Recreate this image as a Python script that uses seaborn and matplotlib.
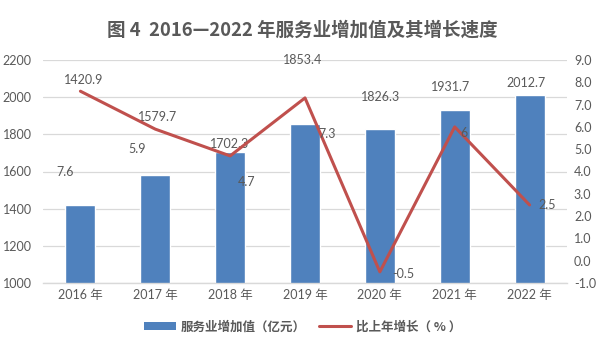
import matplotlib
matplotlib.use("Agg")
import matplotlib.pyplot as plt
import seaborn as sns
import pandas as pd
import numpy as np
from matplotlib.lines import Line2D
from matplotlib.patches import Patch

years = ["2016 年", "2017 年", "2018 年", "2019 年", "2020 年", "2021 年", "2022 年"]
value_added = [1420.9, 1579.7, 1702.3, 1853.4, 1826.3, 1931.7, 2012.7]
growth = [7.6, 5.9, 4.7, 7.3, -0.5, 6.0, 2.5]
growth_labels = ["7.6", "5.9", "4.7", "7.3", "-0.5", "6", "2.5"]

# label offsets in pixels (dx, dy) relative to mark
bar_label_offsets = [(3, 125), (2, 58), (-1, 8), (-2, 64), (1, 32), (-4, 23), (-4, 12)]
line_label_offsets = [(-15, -81), (-18, -20), (16, -26), (22, -36), (23, -2), (9, -6), (18, 0)]

sns.set_theme(style="white")
plt.rcParams['font.family'] = ['Lato', 'Noto Sans CJK SC', 'DejaVu Sans']

BLUE = "#4F81BD"
RED = "#C0504D"
TXT = "#595959"
GRID = "#D9D9D9"

df = pd.DataFrame({"year": years, "value": value_added, "growth": growth})

fig = plt.figure(figsize=(6.05, 3.4), dpi=100)
ax = fig.add_axes([43/605, 1-283/340, (567-43)/605, (283-60)/340])
sns.barplot(data=df, x="year", y="value", color=BLUE, width=0.4, ax=ax,
            saturation=1, zorder=2)
ax.set_ylim(1000, 2200)
ax.set_yticks(np.arange(1000, 2201, 200))
ax.set_xlim(-0.5, 6.5)
ax.grid(axis="y", color=GRID, linewidth=0.9, zorder=0)
ax.set_axisbelow(True)
for s in ["left", "right", "top"]:
    ax.spines[s].set_visible(False)
ax.spines["bottom"].set_color(GRID)
ax.spines["bottom"].set_linewidth(1.0)
ax.set_xlabel("")
ax.set_ylabel("")
ax.tick_params(axis="y", length=0, labelsize=9, labelcolor=TXT, pad=8)
ax.tick_params(axis="x", length=0, labelsize=9, labelcolor=TXT, pad=4)
ax.set_xticks([-0.5, 6.5], minor=True)
ax.tick_params(axis="x", which="minor", length=15, color=GRID, width=1.0, direction="out")

ax2 = ax.twinx()
sns.lineplot(x=np.arange(len(growth)), y=growth, color=RED, linewidth=2.2, ax=ax2, zorder=3)
ax2.set_ylim(-1, 9)
ax2.set_yticks(np.arange(-1, 9.01, 1))
ax2.set_yticklabels([f"{v:.1f}" for v in np.arange(-1, 9.01, 1)])
for s in ax2.spines.values():
    s.set_visible(False)
ax2.tick_params(axis="y", length=0, labelsize=9, labelcolor=TXT, pad=5)
ax2.set_ylabel("")
ax2.grid(False)
ax2.set_xlim(-0.5, 6.5)

for i, (v, (dx, dy)) in enumerate(zip(value_added, bar_label_offsets)):
    ax.annotate(f"{v:.1f}", xy=(i, v), xytext=(dx, dy), textcoords="offset pixels",
                ha="center", va="center", fontsize=9, color=TXT, zorder=5)
for i, (g, lab, (dx, dy)) in enumerate(zip(growth, growth_labels, line_label_offsets)):
    ax2.annotate(lab, xy=(i, g), xytext=(dx, dy), textcoords="offset pixels",
                 ha="center", va="center", fontsize=9, color=TXT, zorder=5)

fig.text(0.5, 1-30/340, "图 4  2016—2022 年服务业增加值及其增长速度", ha="center", va="center",
         fontsize=13.3, fontweight="bold", color=TXT,
         family=['Noto Sans CJK SC', 'DejaVu Sans'])

handles = [Patch(facecolor=BLUE, edgecolor="none"),
           Line2D([0], [0], color=RED, linewidth=2.2)]
leg = fig.legend(handles, ["服务业增加值（亿元）", "比上年增长（ % ）"], loc="center",
                 bbox_to_anchor=(0.5, 1-327/340), ncol=2, frameon=False,
                 handlelength=2.6, handleheight=0.6, columnspacing=1.0, handletextpad=0.4,
                 prop={'family': ['Noto Sans CJK SC', 'DejaVu Sans'], 'weight': 'bold', 'size': 9})
for t in leg.get_texts():
    t.set_color(TXT)

fig.savefig("out.png", dpi=100)
